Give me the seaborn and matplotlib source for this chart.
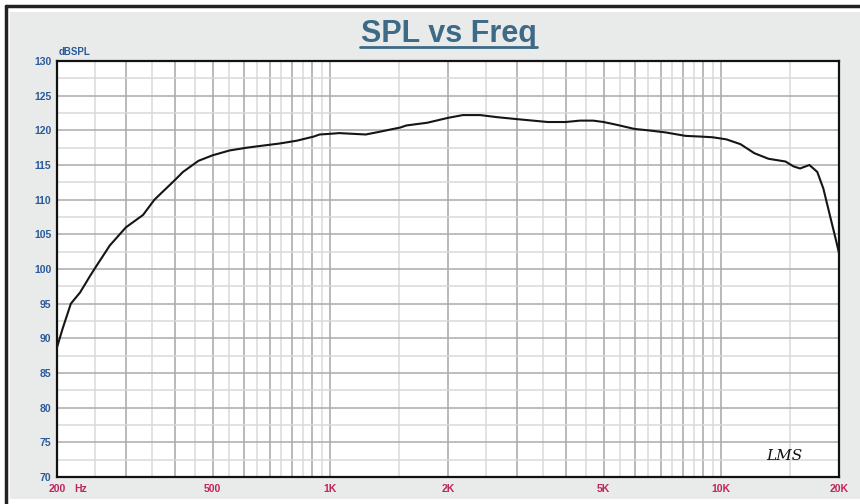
import numpy as np
import pandas as pd
import seaborn as sns
import matplotlib.pyplot as plt
from matplotlib.patches import Rectangle
from matplotlib.lines import Line2D

# ---- data ----
freq_hz = [200, 207, 217, 229, 243, 250, 273, 300, 332, 355, 400, 420, 460,
           500, 553, 612, 673, 742, 820, 907, 939, 1000, 1054, 1232, 1339,
           1420, 1509, 1565, 1772, 2000, 2183, 2417, 2670, 3020, 3600, 4000,
           4350, 4700, 5000, 5400, 6000, 6500, 7200, 8100, 8850, 9500, 10300,
           11200, 12150, 13200, 14600, 15300, 15900, 16800, 17600, 18240,
           19000, 19600, 20000]
spl_db = [88.7, 91.5, 95.0, 96.6, 99.0, 100.1, 103.4, 106.0, 107.8, 110.0,
          112.8, 114.0, 115.6, 116.4, 117.1, 117.5, 117.8, 118.1, 118.5, 119.1,
          119.4, 119.5, 119.6, 119.4, 119.8, 120.1, 120.4, 120.7, 121.1, 121.8,
          122.2, 122.2, 121.9, 121.6, 121.2, 121.2, 121.4, 121.4, 121.2, 120.8,
          120.2, 120.0, 119.7, 119.2, 119.1, 119.0, 118.7, 118.0, 116.7, 115.9,
          115.5, 114.8, 114.5, 115.0, 114.0, 111.6, 107.5, 104.4, 102.3]
x_tick_vals = [200, 500, 1000, 2000, 5000, 10000, 20000]
x_tick_labels = ["200", "500", "1K", "2K", "5K", "10K", "20K"]
x_unit = "Hz"
y_tick_vals = list(range(70, 131, 5))
title_text = "SPL vs Freq"
y_unit = "dBSPL"

df = pd.DataFrame({"freq": freq_hz, "spl": spl_db})

sns.set_style("white")
plt.rcParams['font.family'] = ['Liberation Sans', 'DejaVu Sans']

W, H = 860, 504
fig = plt.figure(figsize=(W / 100, H / 100), dpi=100)
fig.patch.set_facecolor("white")

# gray panel and outer frame
fig.patches.append(Rectangle((10 / W, 1 - 499 / H), 850 / W, (499 - 12) / H,
                             transform=fig.transFigure, facecolor="#e9eaea",
                             edgecolor="none", zorder=-10))
fig.lines.append(Line2D([6 / W, 6 / W], [0, 1 - 6 / H], transform=fig.transFigure,
                        color="#222222", lw=2.5))
fig.lines.append(Line2D([6 / W, 1], [1 - 6 / H, 1 - 6 / H], transform=fig.transFigure,
                        color="#222222", lw=2.5))

ax = fig.add_axes([57 / W, 1 - 477 / H, (839 - 57) / W, (477 - 61) / H])
ax.set_zorder(5)
ax.set_facecolor("white")

sns.lineplot(data=df, x="freq", y="spl", ax=ax, color="#151515", lw=1.5,
             zorder=5)

ax.set_xscale("log")
ax.set_xlim(200, 20000)
ax.set_ylim(70, 130)

# grid lines
major_v = [300, 400, 500, 600, 700, 800, 900, 1000, 2000, 3000, 4000, 5000,
           6000, 7000, 8000, 9000, 10000]
minor_v = [250, 350, 450, 550, 650, 750, 850, 950, 1500, 2500, 3500, 4500,
           5500, 6500, 7500, 8500, 9500, 15000]
for v in minor_v:
    ax.axvline(v, color="#dadada", lw=1.1, zorder=1)
for v in major_v:
    ax.axvline(v, color="#a6a6a6", lw=1.1, zorder=1)
for v in np.arange(72.5, 130, 5):
    ax.axhline(v, color="#d8d8d8", lw=1.1, zorder=1)
for v in range(75, 130, 5):
    ax.axhline(v, color="#ababab", lw=1.1, zorder=1)

ax.set_xticks(x_tick_vals)
ax.set_xticklabels(x_tick_labels)
ax.xaxis.set_minor_locator(plt.NullLocator())
ax.set_yticks(y_tick_vals)
ax.tick_params(axis="x", length=0, pad=5, labelsize=7.5, labelcolor="#c0245c")
ax.tick_params(axis="y", length=0, pad=4, labelsize=7.5, labelcolor="#2a5a9a")
for lab in ax.get_xticklabels() + ax.get_yticklabels():
    lab.set_fontweight("bold")
ax.set_xlabel("")
ax.set_ylabel("")

for s in ax.spines.values():
    s.set_visible(True)
    s.set_color("#111111")
    s.set_linewidth(1.6)

fig.text(74 / W, 1 - 489 / H, x_unit, fontsize=7.5, fontweight="bold",
         color="#c0245c", va="center", ha="left")
fig.text(59 / W, 1 - 52 / H, y_unit, fontsize=7,
         fontweight="bold", color="#2a5a9a", va="center", ha="left")

# title with underline
fig.text(449 / W, 1 - 34 / H, title_text, fontsize=22, fontweight="bold",
         color="#3d6a86", ha="center", va="center")
fig.lines.append(Line2D([360 / W, 537 / W], [1 - 47 / H, 1 - 47 / H],
                        transform=fig.transFigure, color="#3d6a86", lw=2))

ax.text(0.93, 0.05, "LMS", transform=ax.transAxes, fontsize=11,
        fontstyle="italic", color="#111111", family=["DejaVu Serif"],
        ha="center", va="center", zorder=6)

fig.savefig("out.png", dpi=100, facecolor=fig.get_facecolor())
